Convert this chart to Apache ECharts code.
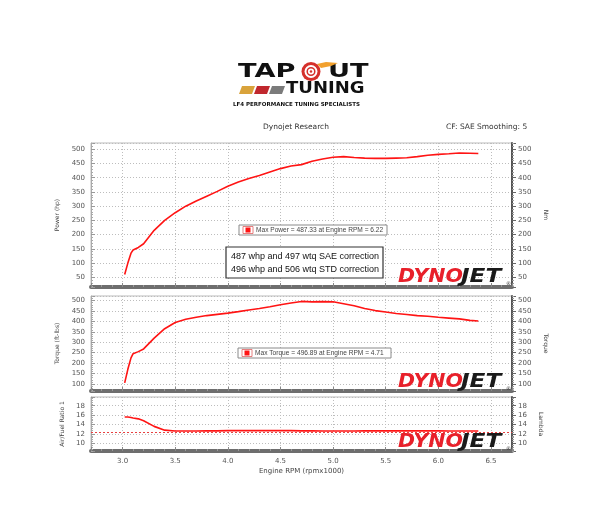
<!DOCTYPE html>
<html><head><meta charset="utf-8">
<script src="https://cdn.jsdelivr.net/npm/echarts@6/dist/echarts.min.js"></script>
<style>html,body{margin:0;padding:0;background:#fff}#c{width:600px;height:510px}</style>
</head><body><div id="c"></div>
<script>
// ---- data ----
const rpm    = [3.02,3.05,3.08,3.10,3.15,3.20,3.30,3.40,3.50,3.60,3.70,3.80,3.90,4.00,4.10,4.20,4.30,4.40,4.50,4.60,4.70,4.80,4.90,5.00,5.10,5.20,5.30,5.40,5.50,5.60,5.70,5.80,5.90,6.00,6.10,6.20,6.30,6.38];
const power  = [60,100,135,146,155,168,215,250,277,300,318,335,352,370,385,397,408,420,432,441,446,458,466,472,474,471,469,468,468,469,470,474,479,482,484,487,486,485];
const torque = [105,170,225,245,255,268,320,365,395,410,420,428,434,440,447,455,462,470,480,488,496,494,495,494,485,475,462,452,445,438,433,428,425,420,416,412,405,402];
const afr    = [15.6,15.6,15.5,15.4,15.2,14.8,13.6,12.8,12.6,12.6,12.6,12.65,12.65,12.7,12.7,12.7,12.7,12.7,12.7,12.7,12.65,12.65,12.6,12.6,12.6,12.6,12.65,12.65,12.65,12.65,12.65,12.65,12.65,12.65,12.6,12.6,12.6,12.6];
const afrReference = [12.3];
const maxPower  = [487.33, 6.22];
const maxTorque = [496.89, 4.71];
const noteLines = ['487 whp and 497 wtq SAE correction','496 whp and 506 wtq STD correction'];
const headerTexts = ['Dynojet Research','CF: SAE Smoothing: 5'];
const axisNames = ['Power (hp)','Torque (ft-lbs)','Air/Fuel Ratio 1','Engine RPM (rpmx1000)'];
const rightNames = ['Nm','Torque','Lambda'];

const RED = '#ff1414';
const chart = echarts.init(document.getElementById('c'), null, {renderer:'canvas'});
const gridL = 91, gridW = 421;
const grids = [
  {left:gridL, width:gridW, top:143, height:144},
  {left:gridL, width:gridW, top:296, height:95},
  {left:gridL, width:gridW, top:397, height:54}
];
const yRanges = [[16,522,10],[66,522,9],[8.36,19.85,6]];
const labelStyle = {fontSize:7, color:'#555', fontFamily:'DejaVu Sans'};
function xAxis(i){
  return {type:'value', gridIndex:i, min:2.7, max:6.7, splitNumber:8,
    axisLine:{show:true, onZero:false, lineStyle:{color:'#6e6e6e', width:4}},
    axisTick:{show:true, inside:true, length:4, lineStyle:{color:'#888'}},
    minorTick:{show:true, splitNumber:5, length:2, lineStyle:{color:'#999'}},
    splitLine:{show:true, lineStyle:{color:'#bdbdbd', type:[1,2], width:1}},
    axisLabel:{show:i===2, ...labelStyle, margin:7, showMinLabel:false, showMaxLabel:false,
      formatter:v=>v.toFixed(1)},
    name: i===2 ? axisNames[3] : '', nameLocation:'middle', nameGap:17,
    nameTextStyle:{fontSize:7, color:'#444', fontFamily:'DejaVu Sans'}
  };
}
function yLeft(i){
  const r = yRanges[i];
  return {type:'value', gridIndex:i, min:r[0], max:r[1], splitNumber:r[2], position:'left',
    axisLine:{show:true, lineStyle:{color:'#aaa', width:1}},
    axisTick:{show:true, inside:true, length:4, lineStyle:{color:'#999'}},
    minorTick:{show:true, splitNumber:5, length:2, lineStyle:{color:'#aaa'}},
    splitLine:{show:true, lineStyle:{color:'#bdbdbd', type:[1,2], width:1}},
    axisLabel:{...labelStyle, margin:6, showMinLabel:false, showMaxLabel:false},
    name:axisNames[i], nameLocation:'middle', nameGap:21, nameRotate:90,
    nameTextStyle:{fontSize:6, color:'#444', fontFamily:'DejaVu Sans'}
  };
}
function yRight(i){
  const r = yRanges[i];
  return {type:'value', gridIndex:i, min:r[0], max:r[1], splitNumber:r[2], position:'right',
    axisLine:{show:true, lineStyle:{color:'#555', width:2}},
    axisTick:{show:true, inside:false, length:4, lineStyle:{color:'#666'}},
    minorTick:{show:true, splitNumber:5, length:2, lineStyle:{color:'#999'}},
    splitLine:{show:false},
    axisLabel:{...labelStyle, margin:6, showMinLabel:false, showMaxLabel:false},
    name:rightNames[i], nameLocation:'middle', nameGap:22, nameRotate:-90,
    nameTextStyle:{fontSize:6, color:'#444', fontFamily:'DejaVu Sans'}
  };
}
const pts = vals => rpm.map((r,k)=>[r, vals[k]]);
const lineSeries = (i, vals, extra) => Object.assign({
  type:'line', xAxisIndex:i, yAxisIndex:i*2, data:pts(vals), showSymbol:false, smooth:false,
  lineStyle:{color:RED, width:1.6}, silent:true, animation:false, z:5
}, extra||{});

function dynojet(y){
  return [
    {type:'text', x:398, y:y, scaleX:1.08, style:{text:'DYNO', font:'italic 900 19px "DejaVu Sans"', fill:'#e8202a', textVerticalAlign:'bottom'}, z:3},
    {type:'text', x:461, y:y, scaleX:1.22, style:{text:'JET', font:'italic 900 19px "DejaVu Sans"', fill:'#1a1a1a', textVerticalAlign:'bottom'}, z:3},
    {type:'text', x:506, y:y-1, style:{text:'®', font:'5px "DejaVu Sans"', fill:'#333', textVerticalAlign:'bottom'}, z:3}
  ];
}
function legendBox(x, y, w, txt){
  return [
    {type:'rect', shape:{x:x, y:y, width:w, height:10}, style:{fill:'#fff', stroke:'#8a8a8a', lineWidth:1}, z:10},
    {type:'rect', shape:{x:x+4, y:y+1.5, width:10, height:7}, style:{fill:'#fff', stroke:'#e06060', lineWidth:0.8}, z:11},
    {type:'rect', shape:{x:x+6.5, y:y+2.5, width:5, height:5}, style:{fill:RED}, z:12},
    {type:'text', x:x+17, y:y+5.5, style:{text:txt, font:'6.6px "Liberation Sans"', fill:'#444', textVerticalAlign:'middle'}, z:12}
  ];
}

const graphics = [
  // logo
  {type:'text', x:238, y:72, scaleX:1.36, style:{text:'TAP', font:'bold 20px "DejaVu Sans"', fill:'#111', textVerticalAlign:'middle'}},
  {type:'text', x:328, y:72, scaleX:1.36, style:{text:'UT', font:'bold 20px "DejaVu Sans"', fill:'#111', textVerticalAlign:'middle'}},
  {type:'polygon', shape:{points:[[317,64],[326,62],[338,63],[331,66],[321,68]]}, style:{fill:'#f2a12e'}},
  {type:'circle', shape:{cx:311, cy:71.5, r:9.5}, style:{fill:'#d5302b'}},
  {type:'circle', shape:{cx:311, cy:71.5, r:6.5}, style:{fill:'#fff'}},
  {type:'circle', shape:{cx:311, cy:71.5, r:3.8}, style:{fill:'#fff', stroke:'#d5302b', lineWidth:1.5}},
  {type:'circle', shape:{cx:311, cy:71.5, r:1.2}, style:{fill:'#d5302b'}},
  {type:'polygon', shape:{points:[[242,86],[255,86],[252,94],[239,94]]}, style:{fill:'#d9a33b'}},
  {type:'polygon', shape:{points:[[257,86],[270,86],[267,94],[254,94]]}, style:{fill:'#c0282e'}},
  {type:'polygon', shape:{points:[[272,86],[285,86],[282,94],[269,94]]}, style:{fill:'#7b7b7b'}},
  {type:'text', x:286, y:89, scaleX:1.2, style:{text:'TUNING', font:'bold 15px "DejaVu Sans"', fill:'#111', textVerticalAlign:'middle'}},
  {type:'text', x:233, y:105, style:{text:'LF4 PERFORMANCE TUNING SPECIALISTS', font:'bold 5.5px "DejaVu Sans"', fill:'#111', textVerticalAlign:'middle'}},
  // header
  {type:'text', x:296, y:127, style:{text:headerTexts[0], font:'7.5px "DejaVu Sans"', fill:'#333', textAlign:'center', textVerticalAlign:'middle'}},
  {type:'text', x:446, y:127, style:{text:headerTexts[1], font:'7.5px "DejaVu Sans"', fill:'#333', textVerticalAlign:'middle'}},
  // note box
  {type:'rect', shape:{x:226, y:247, width:157, height:31}, style:{fill:'#fff', stroke:'#333', lineWidth:1.2}, z:10},
  {type:'text', x:231, y:257, style:{text:noteLines[0], font:'9px "Liberation Sans"', fill:'#111', textVerticalAlign:'middle'}, z:11},
  {type:'text', x:231, y:269.5, style:{text:noteLines[1], font:'9px "Liberation Sans"', fill:'#111', textVerticalAlign:'middle'}, z:11},
  ...legendBox(239, 225, 148, 'Max Power = ' + maxPower[0].toFixed(2) + ' at Engine RPM = ' + maxPower[1].toFixed(2)),
  ...legendBox(238, 348, 153, 'Max Torque = ' + maxTorque[0].toFixed(2) + ' at Engine RPM = ' + maxTorque[1].toFixed(2)),
  ...dynojet(287), ...dynojet(392), ...dynojet(452)
];

chart.setOption({
  animation:false,
  backgroundColor:'#fff',
  grid: grids.map(g=>Object.assign({show:true, borderColor:'#bbb', borderWidth:1, backgroundColor:'transparent'}, g)),
  xAxis:[xAxis(0), xAxis(1), xAxis(2)],
  yAxis:[yLeft(0), yRight(0), yLeft(1), yRight(1), yLeft(2), yRight(2)],
  series:[
    lineSeries(0, power),
    lineSeries(1, torque),
    lineSeries(2, afr, {markLine:{silent:true, symbol:'none', label:{show:false},
      lineStyle:{color:'#e84040', type:[2,2], width:1}, data:afrReference.map(v=>({yAxis:v}))}})
  ],
  graphic: graphics
});
</script></body></html>
